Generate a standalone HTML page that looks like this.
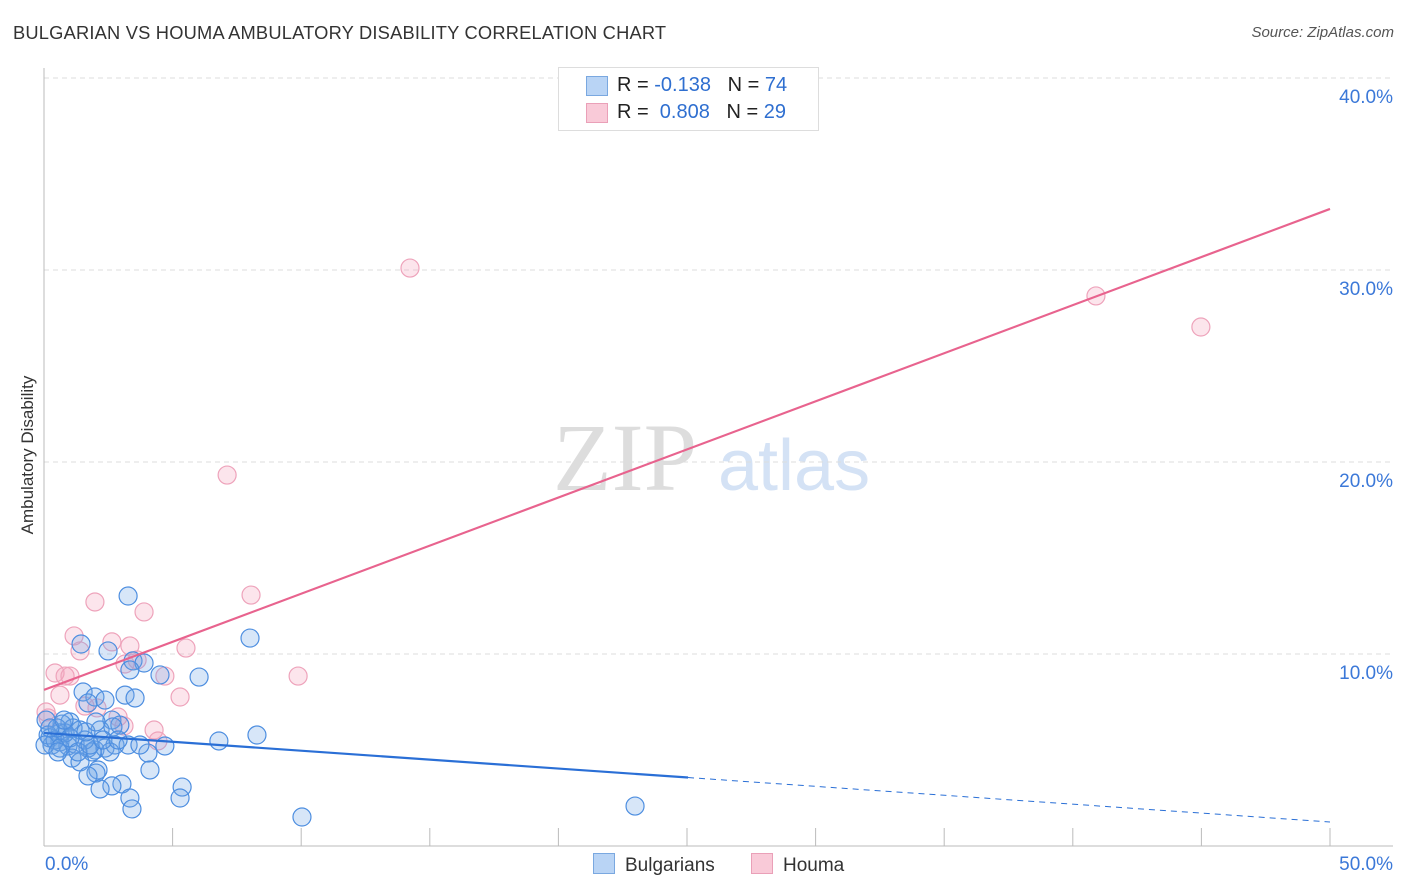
<!DOCTYPE html>
<html><head><meta charset="utf-8"><style>
body{margin:0;background:#fff;font-family:"Liberation Sans",sans-serif;}
#wrap{position:relative;width:1406px;height:892px;overflow:hidden;}
.t{position:absolute;white-space:nowrap;}
</style></head><body>
<div id="wrap">
<div class="t" style="left:13px;top:22px;font-size:18.3px;color:#333;letter-spacing:0.2px">BULGARIAN VS HOUMA AMBULATORY DISABILITY CORRELATION CHART</div>
<div class="t" style="right:12px;top:24px;font-size:15px;color:#555;font-style:italic">Source: ZipAtlas.com</div>
<div class="t" style="left:28px;top:455px;font-size:17px;color:#333;transform:translate(-50%,-50%) rotate(-90deg)">Ambulatory Disability</div>
<svg id="svg" width="1406" height="892" style="position:absolute;left:0;top:0"></svg>
<div class="t" style="left:558px;top:67px;width:259px;height:62px;border:1px solid #ddd;background:#fff;font-size:20px;color:#222">
 <div style="position:absolute;left:27px;top:8px;width:20px;height:18px;background:#b9d4f5;border:1px solid #7aa8e0"></div>
 <div style="position:absolute;left:58px;top:6px">R = <span style="color:#2f6fd0">-0.138</span>&nbsp;&nbsp;&nbsp;N = <span style="color:#2f6fd0">74</span></div>
 <div style="position:absolute;left:27px;top:35px;width:20px;height:18px;background:#f9cad8;border:1px solid #eaa0b8"></div>
 <div style="position:absolute;left:58px;top:33px">R = &nbsp;<span style="color:#2f6fd0">0.808</span>&nbsp;&nbsp;&nbsp;N = <span style="color:#2f6fd0">29</span></div>
</div>
<div class="t" style="left:593px;top:853px;font-size:19px;color:#333"><span style="display:inline-block;width:20px;height:19px;background:#b9d4f5;border:1px solid #7aa8e0;vertical-align:-3px;margin-right:10px"></span>Bulgarians</div>
<div class="t" style="left:751px;top:853px;font-size:19px;color:#333"><span style="display:inline-block;width:20px;height:19px;background:#f9cad8;border:1px solid #eaa0b8;vertical-align:-3px;margin-right:10px"></span>Houma</div>
</div>
<script>
const xTickLabels=["0.0%","50.0%"];
const yTickValues=[10,20,30,40];
const yTickLabels=["10.0%","20.0%","30.0%","40.0%"];
const bluePx=[[128,596],[81,644],[108,651],[133,661],[144,663],[130,670],[160,675],[199,677],[250,638],[83,692],[95,697],[125,695],[135,698],[88,703],[112,720],[70,722],[62,724],[80,730],[100,730],[60,733],[50,738],[52,745],[60,742],[68,746],[75,744],[88,748],[95,750],[105,748],[115,745],[128,745],[148,753],[165,746],[92,752],[72,758],[80,762],[98,770],[96,773],[122,784],[112,786],[88,776],[100,789],[150,770],[182,787],[130,798],[180,798],[132,809],[219,741],[257,735],[302,817],[635,806],[46,720],[48,735],[55,740],[65,733],[57,728],[85,740],[110,752],[140,745],[60,748],[70,738],[78,752],[90,745],[45,745],[50,728],[120,725],[113,727],[73,728],[86,732],[103,740],[64,720],[58,752],[96,722],[105,700],[118,740]];
const pinkPx=[[410,268],[227,475],[1096,296],[1201,327],[95,602],[144,612],[251,595],[74,636],[80,651],[112,642],[130,646],[186,648],[55,673],[65,676],[70,676],[125,664],[137,660],[165,676],[180,697],[298,676],[60,695],[85,706],[97,708],[118,717],[124,726],[154,730],[158,741],[48,718],[46,712]];
const bulgX=bluePx.map(p=>+((p[0]-44)/1286*50).toFixed(2));
const bulgY=bluePx.map(p=>+((846-p[1])/19.2).toFixed(2));
const houmaX=pinkPx.map(p=>+((p[0]-44)/1286*50).toFixed(2));
const houmaY=pinkPx.map(p=>+((846-p[1])/19.2).toFixed(2));
const houmaTrend=[8.13,33.18];
const bulgTrend=[5.89,1.25];
const bulgSolidEnd=25.04;

const X0=44,X1=1330,YB=846,PPY=19.2;
const sx=v=>X0+v/50*(X1-X0);
const sy=v=>YB-v*PPY;
const svg=document.getElementById('svg');
const NS='http://www.w3.org/2000/svg';
function mk(tag,attrs,name){const e=document.createElementNS(NS,tag);for(const k in attrs)e.setAttribute(k,attrs[k]);


svg.appendChild(e);return e;}
const wm1=mk('text',{x:553,y:490,'font-size':96,'font-family':'Liberation Serif',fill:'#ddd'},'watermark-zip');wm1.textContent='ZIP';
const wm2=mk('text',{x:718,y:490,'font-size':72,'font-family':'Liberation Sans',fill:'#d4e2f5'},'watermark-atlas');wm2.textContent='atlas';
yTickValues.forEach((v,i)=>{
 mk('line',{x1:X0,x2:1393,y1:sy(v),y2:sy(v),stroke:'#ddd','stroke-dasharray':'5,4'},'gridline-'+v);
 const t=mk('text',{x:1393,y:sy(v)+25,'text-anchor':'end','font-size':19,fill:'#3b78d8','font-family':'Liberation Sans'},'y-tick-label');t.textContent=yTickLabels[i];
});
mk('line',{x1:X0,x2:X0,y1:68,y2:YB,stroke:'#bbb'},'y-axis-line');
mk('line',{x1:X0,x2:1393,y1:YB,y2:YB,stroke:'#bbb'},'x-axis-line');
for(let v=5;v<=50;v+=5){mk('line',{x1:sx(v),x2:sx(v),y1:828,y2:YB,stroke:'#bbb'},'x-tick');}
const xl0=mk('text',{x:45,y:870,'font-size':19,fill:'#3b78d8','font-family':'Liberation Sans'},'x-tick-label');xl0.textContent=xTickLabels[0];
const xl1=mk('text',{x:1393,y:870,'text-anchor':'end','font-size':19,fill:'#3b78d8','font-family':'Liberation Sans'},'x-tick-label');xl1.textContent=xTickLabels[1];
houmaX.forEach((x,i)=>mk('circle',{cx:sx(x),cy:sy(houmaY[i]),r:9,fill:'rgba(245,160,185,0.28)',stroke:'#eea3bb','stroke-width':1.2},'houma-point'));
bulgX.forEach((x,i)=>mk('circle',{cx:sx(x),cy:sy(bulgY[i]),r:9,fill:'rgba(110,165,230,0.28)',stroke:'#4d8ee0','stroke-width':1.2},'bulgarian-point'));
mk('line',{x1:sx(0),y1:sy(houmaTrend[0]),x2:sx(50),y2:sy(houmaTrend[1]),stroke:'#e8638e','stroke-width':2.2},'houma-trendline');
const bAt=x=>bulgTrend[0]+(bulgTrend[1]-bulgTrend[0])*x/50;
mk('line',{x1:sx(0),y1:sy(bAt(0)),x2:sx(bulgSolidEnd),y2:sy(bAt(bulgSolidEnd)),stroke:'#2a6fd6','stroke-width':2.2},'bulgarian-trendline');
mk('line',{x1:sx(bulgSolidEnd),y1:sy(bAt(bulgSolidEnd)),x2:sx(50),y2:sy(bAt(50)),stroke:'#2a6fd6','stroke-width':1,'stroke-dasharray':'6,5'},'bulgarian-trendline-extension');
</script>
</body></html>
